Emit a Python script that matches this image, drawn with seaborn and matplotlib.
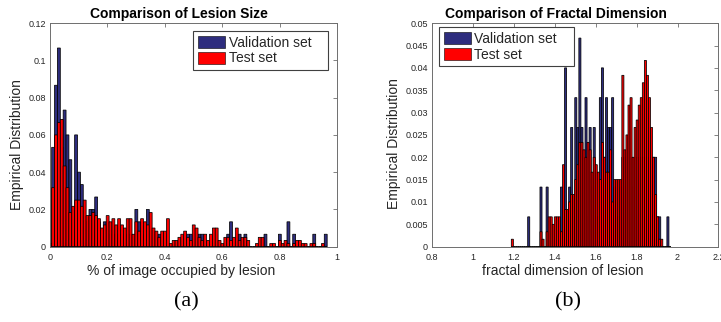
"""Validation vs test set histograms: lesion size and fractal dimension.

Saves out.png (721x322).
"""

import matplotlib

matplotlib.use("Agg")
import matplotlib.pyplot as plt
import numpy as np
import pandas as pd
import seaborn as sns
from matplotlib.patches import Patch
from matplotlib.ticker import FuncFormatter

# validation set has 150 images, test set 600 -> heights are counts / n
N_VAL = 150
N_TEST = 600
BIN_WIDTH = 0.01

# Lesion size: bins start at -0.004, width 0.01
SIZE_BIN_START = -0.004
SIZE_VAL_COUNTS = [
    0, 8, 13, 16, 8, 11, 9, 7, 2, 9,
    6, 5, 2, 2, 3, 3, 4, 2, 1, 2,
    2, 1, 1, 1, 1, 1, 1, 1, 1, 0,
    3, 2, 1, 1, 3, 0, 0, 0, 1, 0,
    0, 0, 0, 0, 0, 0, 0, 0, 1, 1,
    0, 0, 1, 1, 0, 0, 0, 0, 0, 0,
    0, 0, 1, 2, 0, 0, 1, 0, 1, 0,
    0, 0, 0, 0, 0, 1, 0, 0, 0, 0,
    1, 0, 0, 2, 0, 1, 0, 0, 0, 0,
    0, 0, 1, 0, 0, 0, 1,
]
SIZE_TEST_COUNTS = [
    1, 19, 36, 40, 41, 26, 19, 11, 13, 15,
    15, 13, 15, 10, 10, 11, 10, 9, 6, 7,
    10, 8, 9, 7, 9, 7, 6, 9, 9, 4,
    8, 5, 9, 8, 7, 11, 6, 5, 3, 5,
    5, 9, 1, 2, 2, 3, 4, 5, 3, 2,
    7, 6, 3, 2, 4, 2, 4, 6, 6, 2,
    1, 3, 3, 2, 3, 6, 2, 3, 3, 2,
    0, 0, 1, 3, 3, 0, 0, 1, 1, 0,
    2, 1, 2, 1, 0, 1, 2, 2, 1, 1,
    0, 1, 1, 0, 0, 1, 0,
]

# Fractal dimension: bins start at 1.188, width 0.01
FD_BIN_START = 1.188
FD_VAL_COUNTS = [
    0, 0, 0, 0, 0, 0, 0, 0, 1, 0,
    0, 0, 0, 0, 2, 0, 0, 2, 0, 0,
    0, 0, 0, 0, 2, 0, 6, 0, 2, 4,
    1, 5, 4, 7, 4, 3, 5, 1, 4, 2,
    4, 1, 1, 5, 6, 3, 5, 4, 4, 5,
    2, 1, 1, 2, 3, 2, 3, 3, 3, 2,
    3, 3, 3, 3, 3, 3, 3, 3, 2, 3,
    3, 1, 1, 0, 0, 0, 1, 0,
]
FD_TEST_COUNTS = [
    1, 0, 0, 0, 0, 0, 0, 0, 0, 0,
    0, 0, 0, 0, 2, 1, 0, 2, 4, 4,
    3, 4, 4, 4, 2, 11, 5, 5, 6, 7,
    7, 9, 11, 14, 14, 13, 12, 14, 13, 10,
    12, 11, 10, 9, 14, 12, 10, 10, 13, 6,
    9, 9, 9, 9, 23, 13, 15, 19, 20, 12,
    16, 17, 19, 20, 22, 25, 23, 20, 16, 12,
    7, 4, 1, 1, 0, 0, 0, 0,
]

VAL_COLOR = "#2e2d7e"
TEST_COLOR = "#ff0000"
AXIS_COLOR = "#6e6e6e"
TEXT_COLOR = "#262626"


def draw_panel(ax, start, val_counts, test_counts, title, xlabel, xlim, xticks,
               ylim, yticks, title_x, xlabel_x, ylabel_y):
    edges = start + BIN_WIDTH * np.arange(len(val_counts) + 1)
    df = pd.DataFrame({
        "center": edges[:-1] + BIN_WIDTH / 2,
        "val": np.array(val_counts) / N_VAL,
        "test": np.array(test_counts) / N_TEST,
    })

    # validation drawn first, test set on top
    sns.histplot(data=df, x="center", weights="val", bins=edges.tolist(),
                 color=VAL_COLOR, edgecolor="black", linewidth=0.55, alpha=1, ax=ax)
    sns.histplot(data=df, x="center", weights="test", bins=edges.tolist(),
                 color=TEST_COLOR, edgecolor="black", linewidth=0.55, alpha=1, ax=ax)
    for bar in ax.patches:
        bar.set_snap(False)

    ax.set_xlim(*xlim)
    ax.set_ylim(*ylim)
    ax.set_xticks(xticks)
    ax.set_yticks(yticks)
    fmt = FuncFormatter(lambda v, _: f"{v:g}")
    ax.xaxis.set_major_formatter(fmt)
    ax.yaxis.set_major_formatter(fmt)
    ax.tick_params(direction="in", length=3, width=0.6, color=AXIS_COLOR,
                   labelsize=6.5, labelcolor=TEXT_COLOR, top=True, right=True)
    ax.tick_params(axis="x", pad=4.5)
    ax.tick_params(axis="y", pad=3)
    for spine in ax.spines.values():
        spine.set_visible(True)
        spine.set_color(AXIS_COLOR)
        spine.set_linewidth(0.7)

    ax.set_title(title, fontsize=10, fontweight="bold", color="black", pad=4, x=title_x)
    ax.set_xlabel(xlabel, fontsize=10, color=TEXT_COLOR, labelpad=1.5)
    ax.xaxis.label.set_x(xlabel_x)
    ax.set_ylabel("Empirical Distribution", fontsize=10, color=TEXT_COLOR, labelpad=3)
    ax.yaxis.label.set_y(ylabel_y)


def add_legend(ax, loc, anchor):
    handles = [
        Patch(facecolor=VAL_COLOR, edgecolor="black", linewidth=0.4, label="Validation set   "),
        Patch(facecolor=TEST_COLOR, edgecolor="black", linewidth=0.4, label="Test set"),
    ]
    leg = ax.legend(handles=handles, loc=loc, bbox_to_anchor=anchor, borderaxespad=0,
                    fontsize=10, frameon=True, fancybox=False, framealpha=1,
                    borderpad=0.35, labelspacing=0.12, handleheight=0.95,
                    handlelength=1.95, handletextpad=0.25)
    leg.get_frame().set_edgecolor("#404040")
    leg.get_frame().set_linewidth(0.8)


def main():
    sns.set_theme(style="white")
    plt.rcParams["font.family"] = ["Liberation Sans", "DejaVu Sans"]

    fig = plt.figure(figsize=(7.21, 3.22), dpi=100)
    ax_a = fig.add_axes([0.0693, 0.234, 0.398, 0.694])
    ax_b = fig.add_axes([0.599, 0.234, 0.3975, 0.694])

    draw_panel(ax_a, SIZE_BIN_START, SIZE_VAL_COUNTS, SIZE_TEST_COUNTS,
               "Comparison of Lesion Size", "% of image occupied by lesion",
               (0, 1), np.arange(0, 1.01, 0.2), (0, 0.12), np.arange(0, 0.121, 0.02),
               title_x=0.451, xlabel_x=0.456, ylabel_y=0.457)
    add_legend(ax_a, "upper right", (0.969, 0.966))

    draw_panel(ax_b, FD_BIN_START, FD_VAL_COUNTS, FD_TEST_COUNTS,
               "Comparison of Fractal Dimension", "fractal dimension of lesion",
               (0.8, 2.2), np.arange(0.8, 2.21, 0.2), (0, 0.05), np.arange(0, 0.0501, 0.005),
               title_x=0.433, xlabel_x=0.458, ylabel_y=0.462)
    add_legend(ax_b, "upper left", (0.025, 0.983))

    fig.text(0.259, 0.062, "(a)", ha="center", va="center", fontsize=16,
             family=["Liberation Serif", "DejaVu Serif"], color="black")
    fig.text(0.788, 0.062, "(b)", ha="center", va="center", fontsize=16,
             family=["Liberation Serif", "DejaVu Serif"], color="black")

    fig.savefig("out.png", dpi=100)
    plt.close(fig)


if __name__ == "__main__":
    main()
